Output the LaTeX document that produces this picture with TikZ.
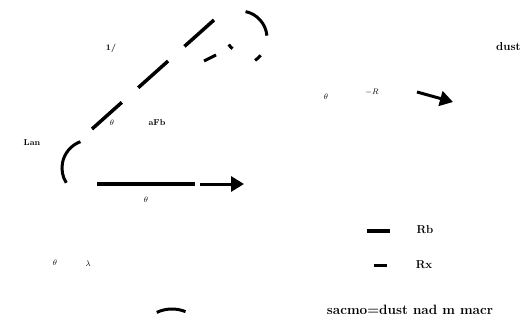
\documentclass[tikz,border=0pt]{standalone}
\usetikzlibrary{arrows.meta}
\begin{document}
\begin{tikzpicture}[x=1pt,y=-1pt,
  lbl/.style={font=\fontsize{8.5}{10}\selectfont\bfseries,inner sep=1pt},
  biglbl/.style={font=\fontsize{11.5}{13}\selectfont\bfseries,inner sep=1pt},
  thick arr/.style={line width=3pt,-{Triangle[length=13pt,width=15pt]}},
  dashthick/.style={line width=3.5pt,dash pattern=on 40pt off 22pt},
  arcline/.style={line width=3pt}]
\useasboundingbox (0,0) rectangle (526,320);
% circle arcs (y axis points down: positive angles go down the page)
\coordinate (c1) at (240,38);
\coordinate (c2) at (90,168);
\coordinate (c3) at (172,345);
\draw[arcline] (c1) ++(-78:27) arc[start angle=-78,end angle=-5,radius=27];
\draw[arcline] (c1) ++(40:27) arc[start angle=40,end angle=56,radius=27];
\draw[arcline] (c1) ++(125:13) arc[start angle=125,end angle=150,radius=13];
\draw[arcline] (c2) ++(250:28) arc[start angle=250,end angle=148,radius=28];
\draw[arcline] (c3) ++(245:36) arc[start angle=245,end angle=292,radius=36];
% dashed diagonal line
\coordinate (d0) at (92,129);
\coordinate (d1) at (214,20);
\draw[dashthick] (d0) -- (d1);
\coordinate (w0) at (204,61);
\coordinate (w1) at (216,55);
\draw[line width=3pt] (w0) -- (w1);
% main horizontal arrow
\coordinate (h0) at (97,184);
\coordinate (hm) at (195,184);
\coordinate (hn) at (200,184);
\coordinate (h1) at (244,184);
\draw[line width=3.5pt] (h0) -- (hm);
\draw[thick arr] (hn) -- (h1);
% upper right arrow
\coordinate (u0) at (417,92);
\coordinate (u1) at (453,102);
\draw[thick arr] (u0) -- (u1);
% labels
\node[lbl] (l1) at (111,48) {1/};
\node[lbl] (l2) at (32,143) {Lan};
\node[lbl] (l3) at (112,123) {$\theta$};
\node[lbl] (l4) at (157,123) {aFb};
\node[lbl] (l5) at (146,200) {$\theta$};
\node[lbl] (l6) at (55,263) {$\theta$};
\node[lbl] (l7) at (88,264) {$\lambda$};
\node[lbl] (l8) at (326,97) {$\theta$};
\node[lbl] (l9) at (372,92) {$-R$};
\node[biglbl,anchor=west] (l10) at (495,47) {dust};
% legend
\coordinate (g0) at (367,231);
\coordinate (g1) at (390,231);
\draw[line width=4.5pt] (g0) -- (g1);
\node[biglbl] (lg1) at (425,230) {Rb};
\coordinate (g2) at (374,265);
\coordinate (g3) at (387,265);
\draw[line width=3pt] (g2) -- (g3);
\node[biglbl] (lg2) at (424,265) {Rx};
\node[biglbl,font=\fontsize{13.5}{15}\selectfont\bfseries] (cap) at (410,310) {sacmo=dust nad m macr};
\end{tikzpicture}
\end{document}
